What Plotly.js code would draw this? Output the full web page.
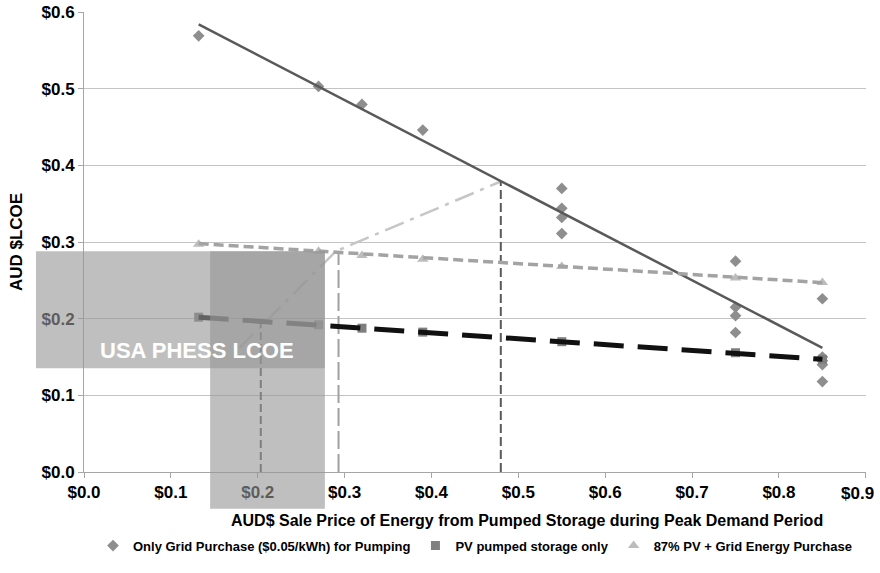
<!DOCTYPE html>
<html>
<head>
<meta charset="utf-8">
<script src="https://cdn.plot.ly/plotly-3.0.1.min.js"></script>
<style>html,body{margin:0;padding:0;background:#fff;}#chart{width:880px;height:573px;}</style>
</head>
<body>
<div id="chart"></div>
<script>
// ---- Data ----
const gridX = [0.132, 0.27, 0.32, 0.39, 0.55, 0.55, 0.55, 0.55, 0.75, 0.75, 0.75, 0.75, 0.85, 0.85, 0.85, 0.85, 0.85];
const gridY = [0.569, 0.503, 0.4795, 0.446, 0.370, 0.344, 0.332, 0.311, 0.275, 0.215, 0.204, 0.182, 0.226, 0.150, 0.145, 0.140, 0.118];
const pvX = [0.132, 0.27, 0.32, 0.39, 0.55, 0.75, 0.85];
const pvY = [0.202, 0.192, 0.1876, 0.1825, 0.170, 0.1556, 0.147];
const mixX = [0.132, 0.27, 0.32, 0.39, 0.55, 0.75, 0.85];
const mixY = [0.297, 0.288, 0.2823, 0.2775, 0.268, 0.253, 0.2473];

// trendline end points
const gridTrendX = [0.132, 0.85];
const gridTrendY = [0.584, 0.162];
const pvTrendX = [0.132, 0.85];
const pvTrendY = [0.202, 0.147];
const mixTrendX = [0.132, 0.85];
const mixTrendY = [0.298, 0.247];

// dash-dot connector and vertical reference lines
const connectorX = [0.179, 0.290, 0.4798];
const connectorY = [0.162, 0.288, 0.379];
const vline1X = [0.2035, 0.2035]; const vline1Y = [0, 0.197];
const vline2X = [0.293, 0.293];   const vline2Y = [0, 0.286];
const vline3X = [0.4798, 0.4798]; const vline3Y = [0, 0.379];

// USA PHESS LCOE band (data units)
const bandPriceRange = [0.1452, 0.2773];
const bandLcoeRange = [0.1353, 0.288];

// axis ticks
const xTickVals = [0, 0.1, 0.2, 0.3, 0.4, 0.5, 0.6, 0.7, 0.8, 0.9];
const xTickText = ['$0.0', '$0.1', '$0.2', '$0.3', '$0.4', '$0.5', '$0.6', '$0.7', '$0.8', '$0.9'];
const yTickVals = [0, 0.1, 0.2, 0.3, 0.4, 0.5, 0.6];
const yTickText = ['$0.0', '$0.1', '$0.2', '$0.3', '$0.4', '$0.5', '$0.6'];

const names = ['Only Grid Purchase ($0.05/kWh) for Pumping', 'PV pumped storage only', '87% PV + Grid Energy Purchase'];

const xRange = [0, 0.9002], yRange = [0, 0.6001];
const px = v => (v - xRange[0]) / (xRange[1] - xRange[0]);
const py = v => (v - yRange[0]) / (yRange[1] - yRange[0]);

const FONT = 'Liberation Sans, Arial, sans-serif';
const tickFont = {family: FONT, size: 17, weight: 'bold', color: '#000'};

// the last x label is nudged inward (as in the original), so it is drawn as an annotation
const lastIdx = xTickText.length - 1;
const xTickTextShown = xTickText.map((t, i) => i === lastIdx ? '' : t);

const traces = [
  {x: connectorX, y: connectorY, mode: 'lines', line: {color: '#c6c6c6', width: 2.5, dash: '20px,7px,4px,7px'}, showlegend: false, hoverinfo: 'skip'},
  {x: vline1X, y: vline1Y, mode: 'lines', line: {color: '#5a5a5a', width: 2, dash: '8px,4px'}, showlegend: false, hoverinfo: 'skip'},
  {x: vline2X, y: vline2Y, mode: 'lines', line: {color: '#a0a0a0', width: 2, dash: '18px,5px'}, showlegend: false, hoverinfo: 'skip'},
  {x: vline3X, y: vline3Y, mode: 'lines', line: {color: '#5a5a5a', width: 2, dash: '9px,4px'}, showlegend: false, hoverinfo: 'skip'},
  {x: gridX, y: gridY, mode: 'markers', name: names[0], marker: {symbol: 'diamond', size: 9, color: '#8e8e8e'}},
  {x: pvX, y: pvY, mode: 'markers', name: names[1], marker: {symbol: 'square', size: 9, color: '#7f7f7f'}},
  {x: mixX, y: mixY, mode: 'markers', name: names[2], marker: {symbol: 'triangle-up', size: 10, color: '#bdbdbd'}},
  {x: gridTrendX, y: gridTrendY, mode: 'lines', line: {color: '#595959', width: 2.5}, showlegend: false, hoverinfo: 'skip'},
  {x: mixTrendX, y: mixTrendY, mode: 'lines', line: {color: '#a3a3a3', width: 3.5, dash: '10px,5px'}, showlegend: false, hoverinfo: 'skip'},
  {x: pvTrendX, y: pvTrendY, mode: 'lines', line: {color: '#111111', width: 5, dash: '30px,14px'}, showlegend: false, hoverinfo: 'skip'}
];

const bandFill = 'rgb(150,150,150)';
const layout = {
  width: 880, height: 573,
  margin: {l: 84, r: 14, t: 12, b: 98},
  paper_bgcolor: '#ffffff', plot_bgcolor: '#ffffff',
  font: {family: FONT, color: '#000000'},
  showlegend: true,
  legend: {orientation: 'h', x: 0.5, xanchor: 'center', y: -0.16, yanchor: 'middle',
           font: {family: FONT, size: 13, weight: 'bold', color: '#000'}, itemwidth: 30, tracegroupgap: 0},
  xaxis: {range: xRange, tickmode: 'array', tickvals: xTickVals, ticktext: xTickTextShown,
          showgrid: false, zeroline: false, showline: true, linecolor: '#a6a6a6', linewidth: 1,
          ticks: 'outside', ticklen: 5, tickcolor: '#a6a6a6',
          tickfont: tickFont, fixedrange: true},
  yaxis: {range: yRange, tickmode: 'array', tickvals: yTickVals, ticktext: yTickText,
          showgrid: true, gridcolor: '#c4c4c4', gridwidth: 1, zeroline: false,
          showline: true, linecolor: '#a6a6a6', linewidth: 1,
          ticks: 'outside', ticklen: 5, tickcolor: '#a6a6a6',
          tickfont: tickFont,
          title: {text: 'AUD $LCOE', font: {family: FONT, size: 17, weight: 'bold', color: '#000'}, standoff: 14},
          fixedrange: true},
  shapes: [
    {type: 'rect', xref: 'paper', yref: 'paper', layer: 'above',
     x0: px(-0.0553), x1: px(bandPriceRange[1]), y0: py(bandLcoeRange[0]), y1: py(bandLcoeRange[1]),
     fillcolor: bandFill, opacity: 0.61, line: {width: 0}},
    {type: 'rect', xref: 'paper', yref: 'paper', layer: 'above',
     x0: px(bandPriceRange[0]), x1: px(bandPriceRange[1]), y0: py(-0.048), y1: py(bandLcoeRange[1]),
     fillcolor: bandFill, opacity: 0.61, line: {width: 0}}
  ],
  annotations: [
    {text: 'USA PHESS LCOE', xref: 'paper', yref: 'paper', x: px(0.1298), y: py(0.158),
     xanchor: 'center', yanchor: 'middle', showarrow: false,
     font: {family: FONT, size: 22, weight: 'bold', color: '#ffffff'}},
    {text: 'AUD$ Sale Price of Energy from Pumped Storage during Peak Demand Period', xref: 'paper', yref: 'paper',
     x: 0.567, y: -0.106, xanchor: 'center', yanchor: 'middle', showarrow: false,
     font: {family: FONT, size: 16, weight: 'bold', color: '#000'}},
    {text: xTickText[lastIdx], xref: 'paper', yref: 'paper', x: px(xTickVals[lastIdx]), xshift: -8,
     y: 0, yshift: -21, xanchor: 'center', yanchor: 'middle', showarrow: false,
     font: tickFont}
  ]
};

Plotly.newPlot('chart', traces, layout, {displayModeBar: false, staticPlot: true});
</script>
</body>
</html>
